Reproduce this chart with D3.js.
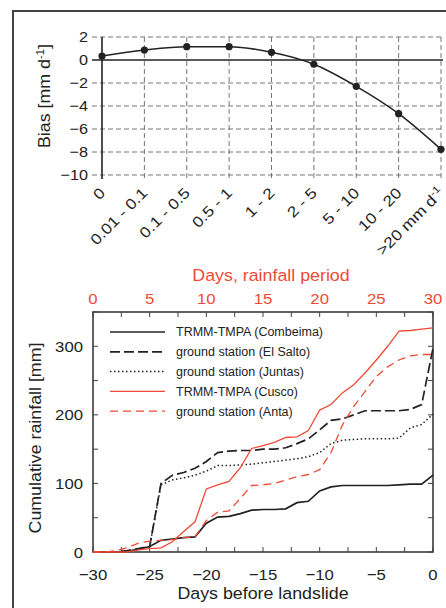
<!DOCTYPE html>
<html>
<head>
<meta charset="utf-8">
<script src="https://cdn.jsdelivr.net/npm/d3@7"></script>
<style>
  body { margin: 0; background: #fff; }
  svg { display: block; font-family: "Liberation Sans", Arial, sans-serif; }
</style>
</head>
<body>
<svg id="chart" width="446" height="608"></svg>
<script>
// top panel: bias per rainfall class
let bias_classes = ['0', '0.01 - 0.1', '0.1 - 0.5', '0.5 - 1', '1 - 2', '2 - 5', '5 - 10', '10 - 20', '>20 mm d']
let bias_values = [0.35, 0.87, 1.16, 1.16, 0.67, -0.37, -2.29, -4.67, -7.77]
let bias_ticks = [2, 0, -2, -4, -6, -8, -10]

// bottom panel: cumulative rainfall before landslide
let days = [-30, -29, -28, -27, -26, -25, -24, -23, -22, -21, -20, -19, -18, -17, -16, -15,
            -14, -13, -12, -11, -10, -9, -8, -7, -6, -5, -4, -3, -2, -1, 0]
let combeima = [0, 0, 0, 1, 4, 8, 17, 19, 21, 22, 42, 51, 52, 56, 61, 62,
                62, 63, 72, 74, 89, 95, 97, 97, 97, 97, 97, 98, 99, 99, 112]
let el_salto = [0, 0, 0, 2, 5, 8, 100, 112, 116, 122, 132, 145, 147, 148, 148, 150,
                150, 152, 158, 165, 178, 192, 194, 200, 206, 206, 206, 206, 208, 215, 297]
let juntas = [0, 0, 0, 1, 4, 8, 98, 105, 108, 112, 118, 126, 126, 127, 128, 130,
              132, 134, 136, 139, 145, 158, 163, 164, 165, 165, 165, 166, 181, 186, 201]
let cusco = [0, 0, 0, 0, 3, 5, 6, 15, 30, 44, 92, 98, 103, 123, 151, 155,
             160, 167, 168, 177, 207, 215, 232, 244, 261, 280, 300, 322, 323, 325, 327]
let anta = [0, 0, 2, 6, 13, 16, 17, 18, 21, 22, 46, 58, 60, 78, 97, 98,
            100, 105, 110, 113, 120, 145, 185, 212, 234, 256, 270, 280, 286, 288, 288]
let series_names = ['TRMM-TMPA (Combeima)', 'ground station (El Salto)', 'ground station (Juntas)',
                    'TRMM-TMPA (Cusco)', 'ground station (Anta)']

let red = '#ef4a37'
let ink = '#222'
let sx = 1.08   // the original lettering runs a little wider than Arial

function place(x, y, rot = 0, s = sx) {
    return `translate(${x},${y}) rotate(${rot}) scale(${s},1)`
}
let fmt = d => String(d).replace('-', '\u2212')

let svg = d3.select('#chart')

// outer frame
svg.append('rect')
    .attr('x', 13).attr('y', 11).attr('width', 440).attr('height', 600)
    .attr('fill', 'none').attr('stroke', '#444').attr('stroke-width', 2)

// ---------- top panel ----------
let x1 = d3.scalePoint().domain(bias_classes).range([102, 441])
let y1 = d3.scaleLinear().domain([-10, 2]).range([175, 37])

let top_g = svg.append('g')

top_g.selectAll('.hgrid')
    .data(bias_ticks)
    .join('line')
    .attr('x1', 92).attr('x2', 443)
    .attr('y1', d => y1(d)).attr('y2', d => y1(d))
    .attr('stroke', d => d === 0 ? ink : '#777')
    .attr('stroke-width', d => d === 0 ? 1.6 : 1)
    .attr('stroke-dasharray', d => d === 0 ? null : '5,3')

top_g.selectAll('.vgrid')
    .data(bias_classes.slice(1))
    .join('line')
    .attr('x1', d => x1(d)).attr('x2', d => x1(d))
    .attr('y1', 37).attr('y2', 178)
    .attr('stroke', '#777')
    .attr('stroke-dasharray', '5,3')

top_g.append('line')
    .attr('x1', 102).attr('x2', 102).attr('y1', 37).attr('y2', 179)
    .attr('stroke', ink).attr('stroke-width', 1.6)

top_g.selectAll('.ylab')
    .data(bias_ticks)
    .join('text')
    .attr('transform', d => place(88, y1(d)))
    .attr('dy', '0.36em')
    .attr('text-anchor', 'end')
    .attr('font-size', 15)
    .attr('fill', ink)
    .text(fmt)

let xl = top_g.selectAll('.xlab')
    .data(bias_classes)
    .join('text')
    .attr('transform', d => place(x1(d) + 4, 194, -45, 1.16))
    .attr('text-anchor', 'end')
    .attr('font-size', 15)
    .attr('fill', ink)
    .text(d => d)
xl.filter((d, i) => i === bias_classes.length - 1)
    .append('tspan').attr('dy', -6).attr('font-size', 10).text('-1')

let bias_line = d3.line()
    .x((d, i) => x1(bias_classes[i]))
    .y(d => y1(d))
    .curve(d3.curveMonotoneX)

top_g.append('path')
    .datum(bias_values)
    .attr('d', bias_line)
    .attr('fill', 'none').attr('stroke', ink).attr('stroke-width', 1.5)

top_g.selectAll('.pt')
    .data(bias_values)
    .join('circle')
    .attr('cx', (d, i) => x1(bias_classes[i]))
    .attr('cy', d => y1(d))
    .attr('r', 3.6)
    .attr('fill', ink)

let bt = top_g.append('text')
    .attr('transform', place(50, 96, -90))
    .attr('text-anchor', 'middle')
    .attr('font-size', 16.5)
    .attr('fill', ink)
    .text('Bias [mm d')
bt.append('tspan').attr('dy', -6).attr('font-size', 10.5).text('-1')
bt.append('tspan').attr('dy', 6).text(']')

// ---------- bottom panel ----------
let x2 = d3.scaleLinear().domain([-30, 0]).range([93, 433])
let x2top = d3.scaleLinear().domain([0, 30]).range([93, 433])
let y2 = d3.scaleLinear().domain([0, 350]).range([552, 312])

let bot = svg.append('g')

bot.append('rect')
    .attr('x', 93).attr('y', 312).attr('width', 340).attr('height', 240)
    .attr('fill', 'none').attr('stroke', '#3a3a3a').attr('stroke-width', 1.6)

let xticks = d3.range(-30, 0.1, 2.5)
let yticks = d3.range(0, 351, 50)

bot.selectAll('.tb')
    .data(xticks)
    .join('line')
    .attr('x1', d => x2(d)).attr('x2', d => x2(d))
    .attr('y1', 552).attr('y2', 547)
    .attr('stroke', '#444')
bot.selectAll('.tt')
    .data(xticks)
    .join('line')
    .attr('x1', d => x2(d)).attr('x2', d => x2(d))
    .attr('y1', 312).attr('y2', 317)
    .attr('stroke', '#444')
bot.selectAll('.tl')
    .data(yticks)
    .join('line')
    .attr('x1', 93).attr('x2', 98)
    .attr('y1', d => y2(d)).attr('y2', d => y2(d))
    .attr('stroke', '#444')
bot.selectAll('.tr')
    .data(yticks)
    .join('line')
    .attr('x1', 433).attr('x2', 428)
    .attr('y1', d => y2(d)).attr('y2', d => y2(d))
    .attr('stroke', '#444')

bot.selectAll('.xb')
    .data(d3.range(-30, 1, 5))
    .join('text')
    .attr('transform', d => place(x2(d), 579.5))
    .attr('text-anchor', 'middle')
    .attr('font-size', 15.5).attr('fill', ink)
    .text(fmt)

bot.selectAll('.xt')
    .data(d3.range(0, 31, 5))
    .join('text')
    .attr('transform', d => place(x2top(d), 304))
    .attr('text-anchor', 'middle')
    .attr('font-size', 15.5).attr('fill', red)
    .text(d => d)

bot.selectAll('.yl')
    .data([0, 100, 200, 300])
    .join('text')
    .attr('transform', d => place(83, y2(d)))
    .attr('dy', '0.36em')
    .attr('text-anchor', 'end')
    .attr('font-size', 15.5).attr('fill', ink)
    .text(d => d)

bot.append('text')
    .attr('transform', place(263, 599))
    .attr('text-anchor', 'middle')
    .attr('font-size', 16.5).attr('fill', ink)
    .text('Days before landslide')

bot.append('text')
    .attr('transform', place(271, 281))
    .attr('text-anchor', 'middle')
    .attr('font-size', 16.5).attr('fill', red)
    .text('Days, rainfall period')

bot.append('text')
    .attr('transform', place(41, 438, -90))
    .attr('text-anchor', 'middle')
    .attr('font-size', 16.5).attr('fill', ink)
    .text('Cumulative rainfall [mm]')

let styles = [
    {values: combeima, color: ink, width: 1.7, dash: null},
    {values: el_salto, color: ink, width: 1.7, dash: '10,4'},
    {values: juntas, color: ink, width: 1.5, dash: '1.5,2.5'},
    {values: cusco, color: red, width: 1.3, dash: null},
    {values: anta, color: red, width: 1.3, dash: '8,5'}
]

let rain_line = d3.line()
    .x((d, i) => x2(days[i]))
    .y(d => y2(d))

bot.selectAll('.series')
    .data(styles)
    .join('path')
    .attr('d', d => rain_line(d.values))
    .attr('fill', 'none')
    .attr('stroke', d => d.color)
    .attr('stroke-width', d => d.width)
    .attr('stroke-dasharray', d => d.dash)

// legend
let leg = bot.selectAll('.legend')
    .data(styles)
    .join('g')
    .attr('transform', (d, i) => `translate(110,${332 + i * 19.8})`)
leg.append('line')
    .attr('x1', 0).attr('x2', 55)
    .attr('stroke', d => d.color)
    .attr('stroke-width', d => d.width)
    .attr('stroke-dasharray', d => d.dash)
leg.append('text')
    .attr('x', 66).attr('dy', '0.35em')
    .attr('font-size', 12.5).attr('fill', ink)
    .text((d, i) => series_names[i])
</script>
</body>
</html>
